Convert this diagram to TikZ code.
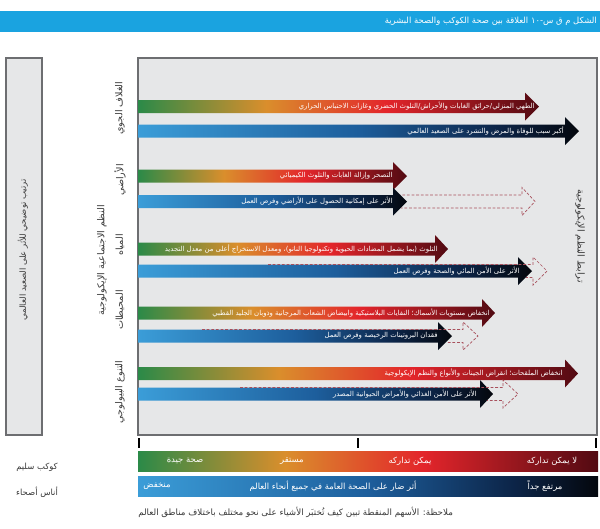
\documentclass[tikz,border=0pt]{standalone}
\usepackage{fontspec}
\newfontfamily\arabicfont[Script=Arabic]{DejaVu Sans}
\TeXXeTstate=1
\usetikzlibrary{positioning}

\definecolor{pgreen}{HTML}{2B8A48}
\definecolor{porange}{HTML}{DA8E2C}
\definecolor{pred}{HTML}{E3252B}
\definecolor{pdark}{HTML}{520A12}
\definecolor{hlight}{HTML}{3B9DD8}
\definecolor{hmid}{HTML}{1D5E9C}
\definecolor{hdark}{HTML}{0C2447}
\definecolor{hblack}{HTML}{04070D}
\definecolor{panelgray}{HTML}{E6E7E8}
\definecolor{framegray}{HTML}{6D6E71}
\definecolor{titleblue}{HTML}{1AA3E0}
\definecolor{dashred}{HTML}{A8505C}
\definecolor{labelgray}{HTML}{3A3A3A}

\pgfdeclarehorizontalshading{planet}{100bp}{color(0bp)=(pgreen); color(25bp)=(pgreen); color(41bp)=(porange); color(56bp)=(pred); color(75bp)=(pdark); color(100bp)=(pdark)}
\pgfdeclarehorizontalshading{people}{100bp}{color(0bp)=(hlight); color(25bp)=(hlight); color(50bp)=(hmid); color(66bp)=(hdark); color(75bp)=(hblack); color(100bp)=(hblack)}

% shaded arrow: shading, start x, head base x, tip x, mid y
\newcommand{\impactarrow}[5]{%
  \shade[shading=#1] (#2,#5-6.5) -- (#3,#5-6.5) -- (#3,#5-14) -- (#4,#5) -- (#3,#5+14) -- (#3,#5+6.5) -- (#2,#5+6.5) -- cycle;}
% dashed outline: start x, head base x, tip x, mid y, end of lower line
\newcommand{\regionarrow}[5]{%
  \draw[regional] (#1,#4-6.5) -- (#2,#4-6.5) -- (#2,#4-14) -- (#3,#4) -- (#2,#4+14) -- (#2,#4+6.5) -- (#5,#4+6.5);}

\tikzset{
  arrowtext/.style={anchor=east, text=white, inner sep=0pt, font=\arabicfont\fontsize{4.9}{5}\selectfont},
  sidetext/.style={text=labelgray, inner sep=0pt, font=\arabicfont\fontsize{6.8}{7}\selectfont},
  smalltext/.style={text=labelgray, inner sep=0pt, font=\arabicfont\fontsize{6}{7}\selectfont},
  bartext/.style={text=white, inner sep=0pt, font=\arabicfont\fontsize{6}{7}\selectfont},
  regional/.style={draw=dashred, line width=0.5pt, dash pattern=on 2pt off 1.3pt},
  panel/.style={fill=panelgray, draw=framegray, line width=1pt}
}

\begin{document}
\begin{tikzpicture}[x=0.025cm, y=-0.025cm]
  \useasboundingbox (0,0) rectangle (600,528);
  \fill[white] (0,0) rectangle (600,528);

  % title
  \fill[titleblue] (0,11) rectangle (600,32);
  \node[anchor=east, text=white, inner sep=0pt, font=\arabicfont\fontsize{6}{7}\selectfont] (title) at (597,21.5)
    {\beginR الشكل م ق س-١٠ العلاقة بين صحة الكوكب والصحة البشرية\endR};

  % frames
  \draw[panel] (6,58) rectangle (42,435);
  \draw[panel] (138,58) rectangle (597,435);
  \node[smalltext, rotate=90] (ranking) at (23,250) {\beginR ترتيب توضيحي للأثر على الصعيد العالمي\endR};
  \node[sidetext, rotate=90] (systems) at (102,260) {\beginR النظم الاجتماعية الإيكولوجية\endR};
  \node[sidetext, rotate=-90] (links) at (580,236) {\beginR ترابط النظم الإيكولوجية\endR};

  \node[sidetext, rotate=90] (air) at (120,108) {\beginR الغلاف الجوي\endR};
  \node[sidetext, rotate=90] (land) at (120,180) {\beginR الأراضي\endR};
  \node[sidetext, rotate=90] (water) at (120,245) {\beginR المياه\endR};
  \node[sidetext, rotate=90] (ocean) at (120,310) {\beginR المحيطات\endR};
  \node[sidetext, rotate=90] (biodiv) at (120,392) {\beginR التنوع البيولوجي\endR};

  % atmosphere
  \impactarrow{planet}{138}{525}{539}{106.5}
  \impactarrow{people}{138}{565}{579}{131}
  \node[arrowtext] (airplanet) at (535,106.5) {\beginR الطهي المنزلي/حرائق الغابات والأحراش/التلوث الحضري وغازات الاحتباس الحراري\endR};
  \node[arrowtext] (airpeople) at (564,131) {\beginR أكبر سبب للوفاة والمرض والتشرد على الصعيد العالمي\endR};

  % land
  \impactarrow{planet}{138}{393}{407}{176}
  \regionarrow{393}{522}{535}{201.5}{401}
  \impactarrow{people}{138}{393}{407}{201.5}
  \node[arrowtext] (landplanet) at (393,176) {\beginR التصحر وإزالة الغابات والتلوث الكيميائي\endR};
  \node[arrowtext] (landpeople) at (393,201.5) {\beginR الأثر على إمكانية الحصول على الأراضي وفرص العمل\endR};

  % water
  \impactarrow{planet}{138}{435}{448}{249}
  \impactarrow{people}{138}{518}{532}{271}
  \regionarrow{268}{533}{547}{271}{526}
  \node[arrowtext] (waterplanet) at (438,249) {\beginR التلوث (بما يشمل المضادات الحيوية وتكنولوجيا النانو)، ومعدل الاستخراج أعلى من معدل التجديد\endR};
  \node[arrowtext] (waterpeople) at (520,271) {\beginR الأثر على الأمن المائي والصحة وفرص العمل\endR};

  % oceans
  \impactarrow{planet}{138}{482}{495}{313}
  \impactarrow{people}{138}{438}{452}{336}
  \regionarrow{202}{463}{478}{336}{446}
  \node[arrowtext] (oceanplanet) at (490,313) {\beginR انخفاض مستويات الأسماك؛ النفايات البلاستيكية وابيضاض الشعاب المرجانية وذوبان الجليد القطبي\endR};
  \node[arrowtext] (oceanpeople) at (438,336) {\beginR فقدان البروتينات الرخيصة وفرص العمل\endR};

  % biodiversity
  \impactarrow{planet}{138}{565}{578}{373.5}
  \impactarrow{people}{138}{480}{493}{394}
  \regionarrow{240}{503}{518}{394}{487}
  \node[arrowtext] (bioplanet) at (563,373.5) {\beginR انخفاض الملقحات؛ انقراض الجينات والأنواع والنظم الإيكولوجية\endR};
  \node[arrowtext] (biopeople) at (477,394) {\beginR الأثر على الأمن الغذائي والأمراض الحيوانية المصدر\endR};

  % scale
  \draw[line width=0.8pt] (139,438) -- (139,448) (358,438) -- (358,448) (596,438) -- (596,448);
  \shade[shading=planet] (138,451) rectangle (598,471);
  \shade[shading=people] (138,476) rectangle (598,496);
  \node[bartext] (good) at (185,461) {\beginR صحة جيدة\endR};
  \node[bartext] (stable) at (292,461) {\beginR مستقر\endR};
  \node[bartext] (recover) at (410,461) {\beginR يمكن تداركه\endR};
  \node[bartext] (norecover) at (552,461) {\beginR لا يمكن تداركه\endR};
  \node[bartext] (low) at (157,486) {\beginR منخفض\endR};
  \node[bartext] (harm) at (333,486) {\beginR أثر ضار على الصحة العامة في جميع أنحاء العالم\endR};
  \node[bartext] (high) at (545,486) {\beginR مرتفع جداً\endR};
  \node[smalltext] (planetok) at (37,467) {\beginR كوكب سليم\endR};
  \node[smalltext] (peopleok) at (37,492) {\beginR أناس أصحاء\endR};
  \node[smalltext, anchor=west, font=\arabicfont\fontsize{6.2}{7}\selectfont] (note) at (138,512) {\beginR ملاحظة: الأسهم المنقطة تبين كيف تُختبَر الأشياء على نحو مختلف باختلاف مناطق العالم\endR};
\end{tikzpicture}
\end{document}
